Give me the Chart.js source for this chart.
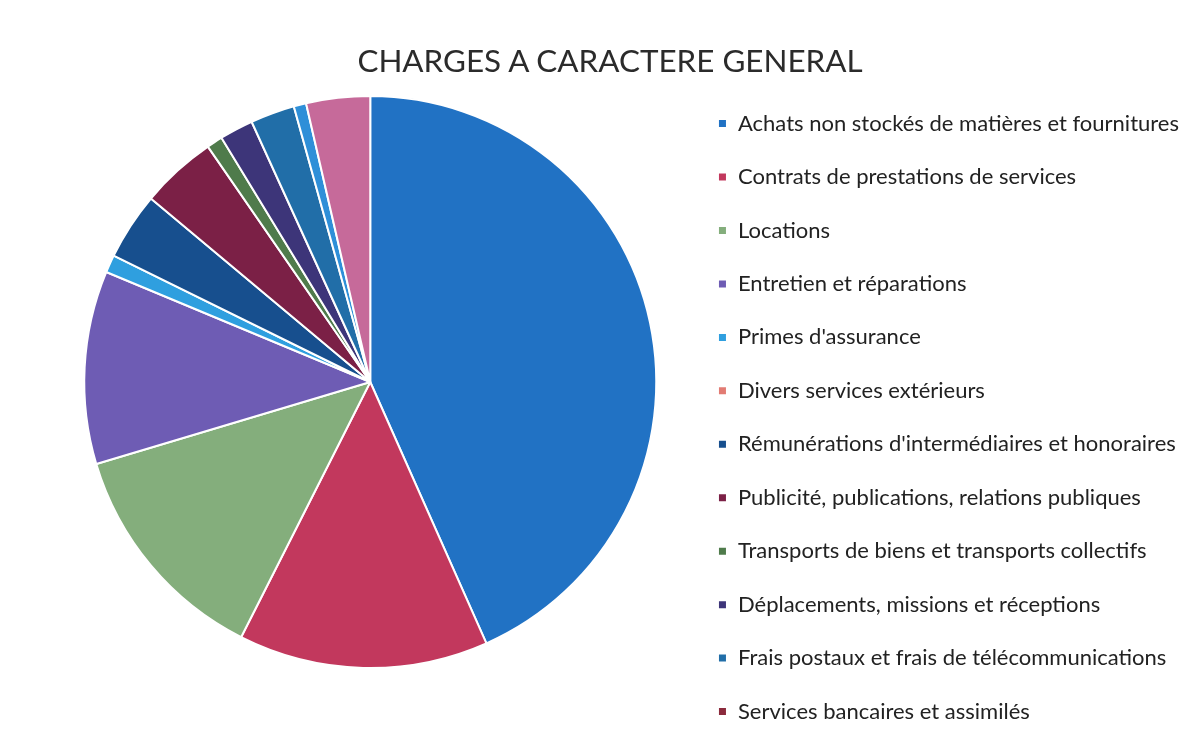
<!DOCTYPE html>
<html>
<head>
<meta charset="utf-8">
<script src="https://cdn.jsdelivr.net/npm/chart.js@4.4.0/dist/chart.umd.min.js"></script>
<style>
    html, body { margin: 0; padding: 0; background: #ffffff; overflow: hidden; }
    #wrap { position: relative; width: 1198px; height: 754px; }
    #title {
        position: absolute; left: 0; top: 38px; width: 1220px; text-align: center;
        font-family: Lato, "Open Sans", sans-serif; font-size: 31.4px; color: #2b2b2b;
        line-height: 44px;
    }
</style>
</head>
<body>
<div id="wrap">
    <canvas id="chargesChart" width="1198" height="754"></canvas>
    <div id="title">CHARGES A CARACTERE GENERAL</div>
</div>
<script>
// Categories in pie order; the last two slices have no visible legend entry
var categories = [
    "Achats non stockés de matières et fournitures",
    "Contrats de prestations de services",
    "Locations",
    "Entretien et réparations",
    "Primes d'assurance",
    "Divers services extérieurs",
    "Rémunérations d'intermédiaires et honoraires",
    "Publicité, publications, relations publiques",
    "Transports de biens et transports collectifs",
    "Déplacements, missions et réceptions",
    "Frais postaux et frais de télécommunications",
    "Services bancaires et assimilés",
    "",
    ""
];

// share of total (%)
var shares = [43.3, 14.1, 12.9, 10.9, 1.0, 0, 3.8, 4.3, 0.9, 1.9, 2.5, 0, 0.7, 3.6];

var sliceColors = [
    '#2172c4', '#c2385d', '#84ae7c', '#6e5cb4', '#2f9fdf', '#e27b73',
    '#174f8e', '#7b2046', '#4f7b4b', '#3d3579', '#216ea8', '#8b2a3c',
    '#2e8fd8', '#c66a9a'
];

var legendCount = 12;

document.addEventListener('DOMContentLoaded', function () {
    var ctx = document.getElementById('chargesChart').getContext('2d');

    var chargesChart = new Chart(ctx, {
        type: 'pie',
        data: {
            labels: categories,
            datasets: [{
                data: shares,
                backgroundColor: sliceColors,
                borderColor: '#ffffff',
                borderWidth: 2,
                radius: 286
            }]
        },
        options: {
            responsive: false,
            animation: false,
            layout: {
                padding: { top: 10, bottom: 0, left: 54, right: 9 }
            },
            plugins: {
                title: { display: false },
                tooltip: { enabled: false },
                legend: {
                    position: 'right',
                    align: 'end',
                    labels: {
                        boxWidth: 9,
                        boxHeight: 9,
                        padding: 31.45,
                        color: '#222222',
                        font: { family: 'Lato, "Open Sans", sans-serif', size: 22 },
                        filter: function (item) {
                            return item.index < legendCount;
                        }
                    }
                }
            }
        }
    });
});
</script>
</body>
</html>
